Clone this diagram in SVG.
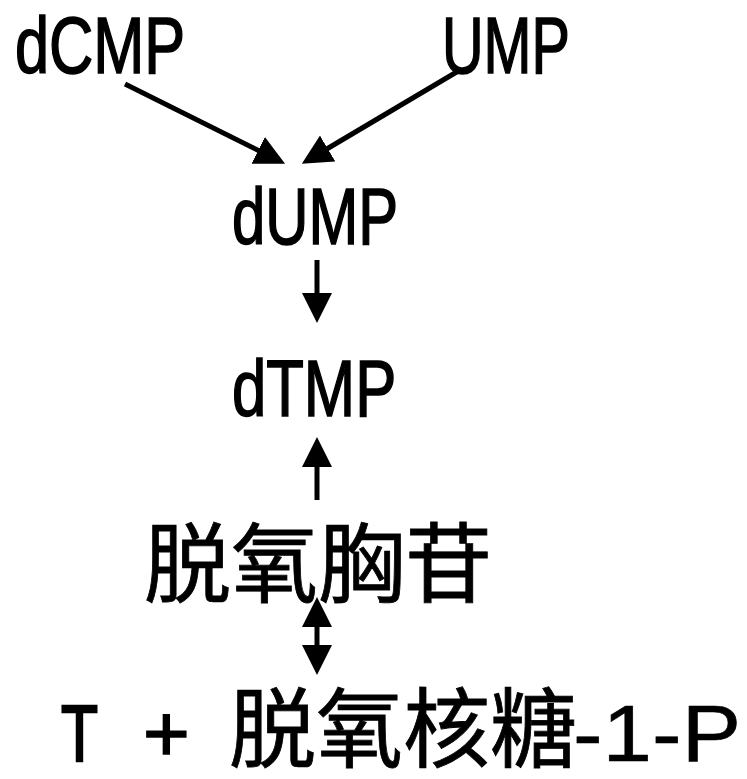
<svg xmlns="http://www.w3.org/2000/svg" width="747" height="779" viewBox="0 0 747 779">
  <style>
    .lat { font-family: "Liberation Sans", "Noto Sans CJK SC", sans-serif; font-size: 80px; fill: #000; stroke: #000; stroke-width: 1.6px; }
    .cjk { font-family: "Noto Sans CJK SC", "Noto Sans CJK JP", sans-serif; font-size: 87px; fill: #000; stroke: #000; stroke-width: 0.8px; }
    .edge { stroke: #000; stroke-width: 5; fill: none; }
  </style>
  <defs>
    <marker id="head" viewBox="0 0 30 30" refX="2" refY="15" markerWidth="30" markerHeight="30" markerUnits="userSpaceOnUse" orient="auto-start-reverse">
      <path d="M0,0 L30,15 L0,30 z" fill="#000"/>
    </marker>
  </defs>
  <rect width="747" height="779" fill="#fff"/>

  <!-- narrow latin labels: Liberation Sans squeezed horizontally -->
  <g id="dCMP">
    <text class="lat" transform="translate(15,73) scale(0.766,1)">dCMP</text>
  </g>
  <g id="UMP">
    <text class="lat" transform="translate(442,73) scale(0.72,1)">UMP</text>
  </g>
  <g id="dUMP">
    <text class="lat" transform="translate(232,244) scale(0.748,1)">dUMP</text>
  </g>
  <g id="dTMP">
    <text class="lat" transform="translate(232,416) scale(0.77,1)">dTMP</text>
  </g>
  <g id="deoxythymidine">
    <text class="cjk" x="144" y="596">脱氧胸苷</text>
  </g>
  <g id="thymine-deoxyribose-1-P">
    <text class="cjk" y="761"><tspan class="lat" x="61" textLength="37" lengthAdjust="spacingAndGlyphs" style="stroke-width:2.4px">T</tspan> <tspan class="lat" x="143">+</tspan> <tspan x="229">脱氧核糖</tspan><tspan class="lat" x="573" textLength="168" lengthAdjust="spacingAndGlyphs" style="stroke-width:0.6px">-1-P</tspan></text>
  </g>

  <g id="connectors">
    <line class="edge" x1="125" y1="84" x2="260" y2="151.3" marker-end="url(#head)"/>
    <line class="edge" x1="460" y1="70" x2="325.9" y2="149.5" marker-end="url(#head)"/>
    <line class="edge" x1="317" y1="260" x2="317" y2="295" marker-end="url(#head)"/>
    <line class="edge" x1="317" y1="500" x2="317" y2="465" marker-end="url(#head)"/>
    <line class="edge" x1="317" y1="625" x2="317" y2="647" marker-start="url(#head)" marker-end="url(#head)"/>
  </g>
</svg>
